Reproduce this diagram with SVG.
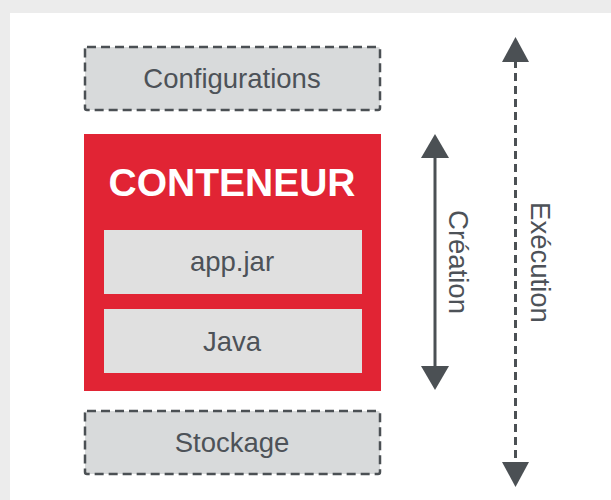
<svg xmlns="http://www.w3.org/2000/svg" width="611" height="500" viewBox="0 0 611 500">
<style>
.dbox{fill:#d8dadb;stroke:#4b5054;stroke-width:2.5;stroke-dasharray:9 5}
.ibox{fill:#e0e0e0}
.lbl{font-family:"Liberation Sans",Arial,sans-serif;font-size:27.5px;fill:#4d5258;text-anchor:middle}
.title{font-family:"Liberation Sans",Arial,sans-serif;font-size:39px;font-weight:bold;fill:#ffffff;text-anchor:middle}
.head{fill:#4b5054}
</style>
<rect x="0" y="0" width="611" height="500" fill="#ececec"/>
<rect x="10" y="13" width="601" height="487" fill="#ffffff"/>
<g id="configurations">
<rect class="dbox" x="85" y="47" width="295" height="63" rx="2"/>
<text class="lbl" x="232" y="87.5">Configurations</text>
</g>
<g id="conteneur">
<rect x="84" y="134" width="297" height="257" fill="#e12434"/>
<text class="title" x="232" y="196">CONTENEUR</text>
</g>
<g id="appjar">
<rect class="ibox" x="104" y="230" width="258" height="64"/>
<text class="lbl" x="232" y="271">app.jar</text>
</g>
<g id="java">
<rect class="ibox" x="104" y="309" width="258" height="64"/>
<text class="lbl" x="232" y="350.5">Java</text>
</g>
<g id="stockage">
<rect class="dbox" x="85" y="411" width="295" height="63" rx="2"/>
<text class="lbl" x="232" y="452">Stockage</text>
</g>
<g id="connectors">
<line x1="435" y1="156" x2="435" y2="368" stroke="#4b5054" stroke-width="3"/>
<polygon class="head" points="435,134 449,158 421,158"/>
<polygon class="head" points="435,390 449,366 421,366"/>
<line x1="515.5" y1="60" x2="515.5" y2="464" stroke="#4b5054" stroke-width="3" stroke-dasharray="8 5"/>
<polygon class="head" points="515.5,37 529,62 502,62"/>
<polygon class="head" points="515.5,487 529,462 502,462"/>
</g>
<g id="labels">
<text class="lbl" x="449" y="262" transform="rotate(90 449 262)">Création</text>
<text class="lbl" x="531" y="262.5" transform="rotate(90 531 262.5)">Exécution</text>
</g>
</svg>
